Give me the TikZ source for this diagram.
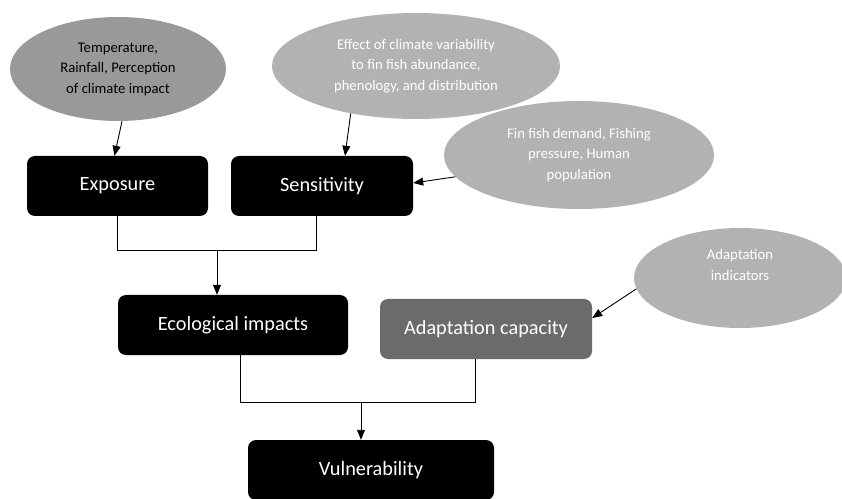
\documentclass[tikz,border=0pt]{standalone}
\usepackage{fontspec}
\setmainfont{Carlito}
\usetikzlibrary{arrows.meta,shapes.geometric,calc}
\definecolor{ellDark}{gray}{0.60}
\definecolor{ellLight}{gray}{0.70}
\definecolor{adaGray}{gray}{0.42}
\begin{document}
\begin{tikzpicture}[x=1pt,y=1pt,
  box/.style={fill=black, rounded corners=8pt, text=white, inner sep=0pt,
    font=\fontsize{20.3}{24}\selectfont, minimum height=60pt},
  oval/.style={ellipse, fill=ellLight, text=white, inner sep=0pt, align=center,
    font=\fontsize{14.7}{20.5}\selectfont},
  arr/.style={-{Triangle[length=10pt,width=8pt]}, line width=0.9pt},
  conn/.style={line width=0.8pt}]
\useasboundingbox (0,0) rectangle (842,498);

% boxes
\node[box, minimum width=181pt] (exp) at (117.5,312) {Exposure};
\node[box, minimum width=182pt] (sen) at (322,312) {Sensitivity};
\node[box, minimum width=230pt] (eco) at (233,173) {Ecological impacts};
\node[box, minimum width=212pt, fill=adaGray] (ada) at (486,169) {Adaptation capacity};
\node[box, minimum width=246pt] (vul) at (371,28) {Vulnerability};

% ellipses
\node[oval, fill=ellDark, text=black, minimum width=216pt, minimum height=104pt] (e1) at (118,429)
  {Temperature,\\Rainfall, Perception\\of climate impact};
\node[oval, minimum width=288pt, minimum height=106pt] (e2) at (416,432)
  {Effect of climate variability\\to fin fish abundance,\\phenology, and distribution};
\node[oval, minimum width=270pt, minimum height=108pt] (e3) at (579,343)
  {Fin fish demand, Fishing\\pressure, Human\\population};
\node[oval, minimum width=212pt, minimum height=100pt] (e4) at (740,220)
  {Adaptation\\indicators\\\strut};

% input arrows
\draw[arr] ($(e1.south)+(4,0)$) -- ($(exp.north)+(-3,0)$);
\draw[arr] (e2.216) -- ($(sen.north)+(23,0)$);
\draw[arr] (e3.190) -- ($(sen.east)+(0,3)$);
\draw[arr] (e4.186) -- ($(ada.east)+(0,11)$);

% upper junction
\coordinate (js) at ($(sen.south)+(-6,0)$);
\coordinate (j1) at (217,248);
\draw[conn] (exp.south) |- (js |- j1) -- (js);
\draw[arr] (j1) -- (eco.north -| j1);

% lower junction
\coordinate (je) at ($(eco.south)+(7,0)$);
\coordinate (ja) at ($(ada.south)+(-11,0)$);
\coordinate (j2) at (361,96);
\draw[conn] (je) |- (ja |- j2) -- (ja);
\draw[arr] (j2) -- (vul.north -| j2);
\end{tikzpicture}
\end{document}
